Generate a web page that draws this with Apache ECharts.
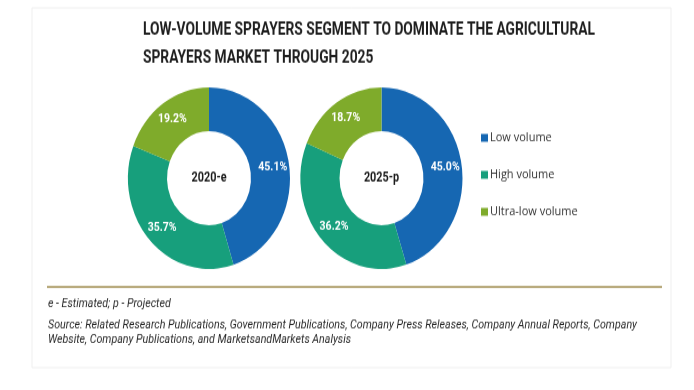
<!DOCTYPE html>
<html>
<head>
<meta charset="utf-8">
<script src="https://cdn.jsdelivr.net/npm/echarts@6/dist/echarts.min.js"></script>
<style>
  html, body { margin: 0; padding: 0; background: #ffffff; overflow: hidden; }
  #wrap { width: 694px; height: 390px; overflow: hidden; position: relative; }
  #chart { width: 694px; height: 348px; transform: scaleY(1.1207); transform-origin: 0 0; }
</style>
</head>
<body>
<div id="wrap"><div id="chart"></div></div>
<script>
// ---- data ----
const categories = ['Low volume', 'High volume', 'Ultra-low volume'];
const years = ['2020-e', '2025-p'];
const values2020 = [45.1, 35.7, 19.2];
const values2025 = [45.0, 36.2, 18.7];
const titleLines = ['LOW-VOLUME SPRAYERS SEGMENT TO DOMINATE THE AGRICULTURAL', 'SPRAYERS MARKET THROUGH 2025'];
const footnote = 'e - Estimated; p - Projected';
const sourceLines = [
  'Source: Related Research Publications, Government Publications, Company Press Releases, Company Annual Reports, Company',
  'Website, Company Publications, and MarketsandMarkets Analysis'
];

// ---- styles ----
const colors = ['#1667b2', '#179f7c', '#7fab2b'];
const FONT = 'Roboto, "Liberation Sans", sans-serif';
const centers = [[209, 159], [381.5, 159]];
const seriesValues = [values2020, values2025];

const mctx = document.createElement('canvas').getContext('2d');
function fitScale(text, font, target) {
  mctx.font = font;
  const w = mctx.measureText(text).width;
  return w > 0 ? target / w : 1;
}

const titleFont = 'bold 16px ' + FONT;
const titleScale = fitScale(titleLines[0], titleFont, 452);
const noteFont = 'italic 10.5px ' + FONT;
const noteScale = fitScale(sourceLines[0], noteFont, 589);
const centerFont = 'bold 13px ' + FONT;
const centerScale = fitScale(years[0], centerFont, 35);

const chart = echarts.init(document.getElementById('chart'), null, { renderer: 'canvas' });

const series = years.map((y, i) => ({
  name: y,
  type: 'pie',
  center: centers[i],
  radius: [42, 81],
  startAngle: 90,
  clockwise: true,
  avoidLabelOverlap: false,
  silent: true,
  label: {
    show: true,
    position: 'inside',
    color: '#ffffff',
    fontFamily: FONT,
    fontWeight: 'bold',
    fontSize: 10.5,
    formatter: p => p.value.toFixed(1) + '%'
  },
  labelLine: { show: false },
  itemStyle: { borderWidth: 0 },
  data: categories.map((c, k) => ({ name: c, value: seriesValues[i][k] }))
}));

const graphics = [
  { type: 'rect', shape: { x: 32, y: 7, width: 639, height: 321 }, style: { fill: 'none', stroke: '#efefef', lineWidth: 1 }, silent: true },
  { type: 'line', shape: { x1: 47, y1: 256, x2: 662, y2: 256 }, style: { stroke: '#b9ab7e', lineWidth: 2 }, silent: true }
];
titleLines.forEach((t, k) => {
  graphics.push({ type: 'text', x: 143, y: 27.4 + k * 25, scaleX: titleScale, style: { text: t, fill: '#1f1f1f', font: titleFont, verticalAlign: 'middle' } });
});
[[footnote, 271.5], [sourceLines[0], 290.8], [sourceLines[1], 303.3]].forEach(([t, y]) => {
  graphics.push({ type: 'text', x: 48, y: y, scaleX: noteScale, style: { text: t, fill: '#2a2a2a', font: noteFont, verticalAlign: 'middle' } });
});
years.forEach((y, i) => {
  graphics.push({ type: 'text', x: centers[i][0], y: centers[i][1], scaleX: centerScale, style: { text: y, fill: '#1a1a1a', font: centerFont, align: 'center', verticalAlign: 'middle' } });
});

chart.setOption({
  animation: false,
  backgroundColor: '#ffffff',
  color: colors,
  legend: {
    orient: 'vertical',
    left: 481,
    top: 116,
    padding: 0,
    itemWidth: 7,
    itemHeight: 7,
    itemGap: 19,
    icon: 'rect',
    selectedMode: false,
    data: categories,
    textStyle: { fontFamily: '"Open Sans", sans-serif', fontSize: 11, color: '#333', lineHeight: 14, padding: [0, 0, 0, -3] }
  },
  series: series,
  graphic: graphics
});
</script>
</body>
</html>
